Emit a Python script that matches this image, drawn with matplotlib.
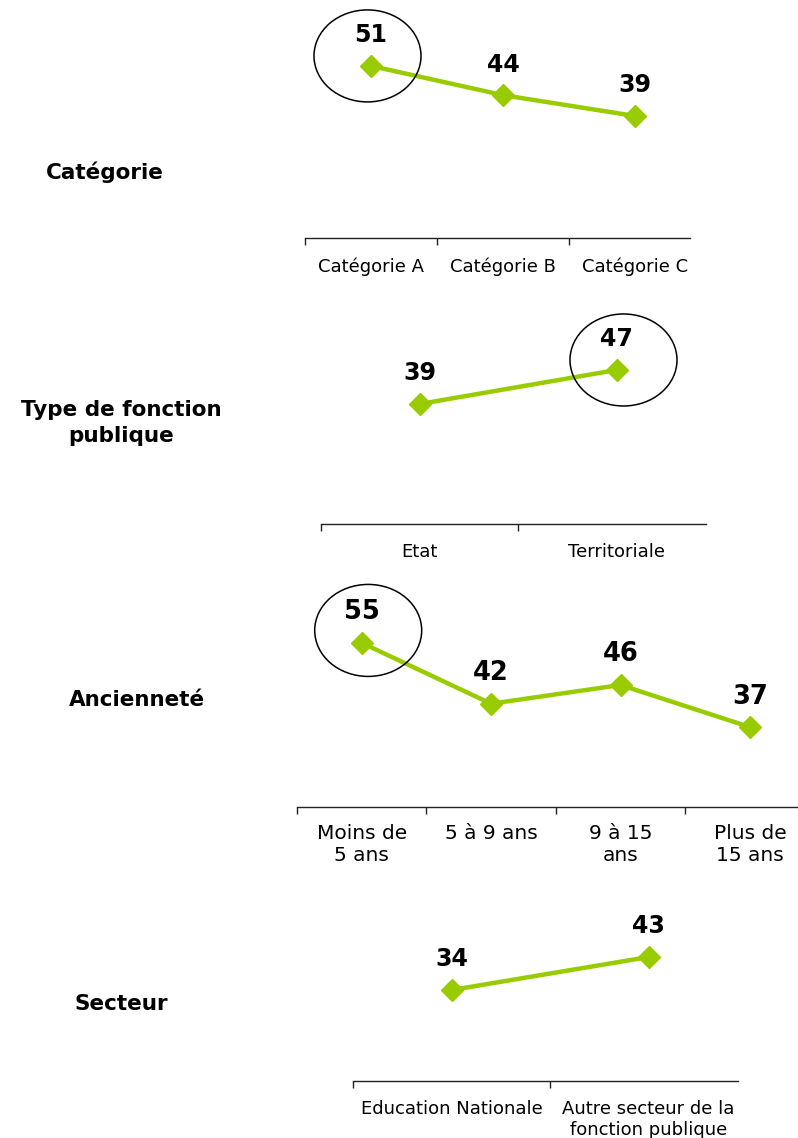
# -*- coding: utf-8 -*-
# profils par categorie / type / anciennete / secteur
import numpy as np
import matplotlib.pyplot as plt
from matplotlib.patches import Ellipse

W, H = 798, 1138
vert = '#99CC00'

# donnees
titre_cat = u'Catégorie'
noms_cat = [u'Catégorie A', u'Catégorie B', u'Catégorie C']
vals_cat = [51, 44, 39]

titre_type = u'Type de fonction\npublique'
noms_type = [u'Etat', u'Territoriale']
vals_type = [39, 47]

titre_anc = u'Ancienneté'
noms_anc = [u'Moins de\n5 ans', u'5 à 9 ans', u'9 à 15\nans', u'Plus de\n15 ans']
vals_anc = [55, 42, 46, 37]

titre_sect = u'Secteur'
noms_sect = [u'Education Nationale', u'Autre secteur de la\nfonction publique']
vals_sect = [34, 43]

# mise en page (pixels)
panneaux = [
    dict(titre=titre_cat, noms=noms_cat, vals=vals_cat, x0=305, dx=132, yb=238, yt=0,
         ylim=(9.75, 66.8), fin=2.92, cercle=0, dxy=(-3.5, 10), tx=105, ty=172, fs=13, fv=17, pad=14),
    dict(titre=titre_type, noms=noms_type, vals=vals_type, x0=321, dx=197, yb=524, yt=290,
         ylim=(10.8, 65.8), fin=1.954, cercle=1, dxy=(7, 10), tx=121, ty=423, fs=13, fv=17, pad=14),
    dict(titre=titre_anc, noms=noms_anc, vals=vals_anc, x0=297, dx=129.4, yb=807, yt=570,
         ylim=(19.9, 70.6), fin=4.0, cercle=0, dxy=(6.5, 12.5), tx=137, ty=700, fs=14.5, fv=18.5, pad=12),
    dict(titre=titre_sect, noms=noms_sect, vals=vals_sect, x0=353, dx=197, yb=1081, yt=880,
         ylim=(9.2, 64.0), fin=1.954, cercle=None, dxy=(0, 0), tx=121, ty=1004, fs=13, fv=17, pad=14),
]

fig = plt.figure(figsize=(W / 100., H / 100.), dpi=100)
fig.patch.set_facecolor('white')

for p in panneaux:
    n = len(p['vals'])
    left = p['x0'] / float(W)
    bottom = 1 - p['yb'] / float(H)
    width = n * p['dx'] / float(W)
    height = (p['yb'] - p['yt']) / float(H)
    ax = fig.add_axes([left, bottom, width, height])
    ax.set_xlim(0, n)
    ax.set_ylim(p['ylim'])
    ax.patch.set_visible(False)

    xs = np.arange(n) + 0.5
    ax.plot(xs, p['vals'], color=vert, linewidth=3.2, marker='D', markersize=11,
            markeredgecolor=vert, clip_on=False)
    for x, v in zip(xs, p['vals']):
        ax.annotate(str(v), (x, v), xytext=(0, 22), textcoords='offset points',
                    ha='center', va='center', fontsize=p['fv'], fontweight='bold',
                    color='black')

    for s in ['top', 'right', 'left']:
        ax.spines[s].set_visible(False)
    ax.spines['bottom'].set_bounds(0, p['fin'])
    ax.spines['bottom'].set_linewidth(1.0)
    ax.spines['bottom'].set_color('#222222')
    ax.set_yticks([])
    ax.set_xticks(np.arange(n))
    ax.set_xticklabels([])
    ax.set_xticks(xs, minor=True)
    ax.set_xticklabels(p['noms'], minor=True, fontsize=p['fs'])
    ax.tick_params(axis='x', which='major', direction='out', length=5, width=1, color='#222222')
    ax.tick_params(axis='x', which='minor', length=0, pad=p['pad'])

    fig.text(p['tx'] / float(W), 1 - p['ty'] / float(H), p['titre'], ha='center', va='center',
             fontsize=15.5, fontweight='bold', linespacing=1.4)

    # cercle autour de la valeur max
    if p['cercle'] is not None:
        i = p['cercle']
        px, py = ax.transData.transform((xs[i], p['vals'][i]))
        cx = (px + p['dxy'][0]) / W
        cy = (py + p['dxy'][1]) / H
        e = Ellipse((cx, cy), 107. / W, 92. / H, transform=fig.transFigure,
                    fill=False, edgecolor='black', linewidth=1.1)
        fig.add_artist(e)

plt.savefig('out.png', format='png', dpi=100)
